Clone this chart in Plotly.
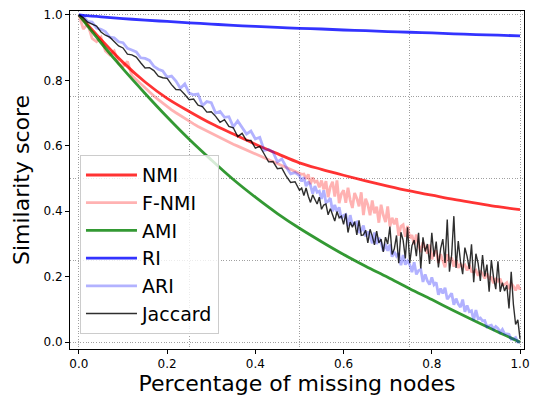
import plotly.graph_objects as go

# x positions (fraction of missing nodes) for the smooth measures
x_smooth = [0.00, 0.05, 0.10, 0.15, 0.20, 0.25, 0.30, 0.35, 0.40, 0.45, 0.50,
            0.55, 0.60, 0.65, 0.70, 0.75, 0.80, 0.85, 0.90, 0.95, 1.00]

nmi = [1.000, 0.925, 0.855, 0.795, 0.745, 0.705, 0.668, 0.636, 0.605, 0.576, 0.548,
       0.528, 0.510, 0.493, 0.477, 0.462, 0.449, 0.436, 0.425, 0.414, 0.405]
ami = [1.000, 0.915, 0.835, 0.760, 0.688, 0.620, 0.557, 0.497, 0.443, 0.393, 0.348,
       0.307, 0.268, 0.232, 0.198, 0.163, 0.130, 0.096, 0.063, 0.031, 0.000]
ri = [1.000, 0.994, 0.989, 0.984, 0.980, 0.976, 0.972, 0.968, 0.965, 0.962, 0.959,
      0.957, 0.954, 0.952, 0.949, 0.947, 0.945, 0.942, 0.940, 0.938, 0.936]

# x positions for the noisy measures
x_noisy = [0.00, 0.01, 0.02, 0.03, 0.04, 0.05, 0.06, 0.07, 0.08, 0.09,
           0.10, 0.11, 0.12, 0.13, 0.14, 0.15, 0.16, 0.17, 0.18, 0.19,
           0.20, 0.21, 0.22, 0.23, 0.24, 0.25, 0.26, 0.27, 0.28, 0.29,
           0.30, 0.31, 0.32, 0.33, 0.34, 0.35, 0.36, 0.37, 0.38, 0.39,
           0.40, 0.41, 0.42, 0.43, 0.44, 0.45, 0.46, 0.47, 0.48, 0.49, 0.50,
           0.505, 0.510, 0.515, 0.520, 0.525, 0.530, 0.535, 0.540, 0.545, 0.550,
           0.555, 0.560, 0.565, 0.570, 0.575, 0.580, 0.585, 0.590, 0.595, 0.600,
           0.605, 0.610, 0.615, 0.620, 0.625, 0.630, 0.635, 0.640, 0.645, 0.650,
           0.655, 0.660, 0.665, 0.670, 0.675, 0.680, 0.685, 0.690, 0.695, 0.700,
           0.705, 0.710, 0.715, 0.720, 0.725, 0.730, 0.735, 0.740, 0.745, 0.750,
           0.755, 0.760, 0.765, 0.770, 0.775, 0.780, 0.785, 0.790, 0.795, 0.800,
           0.805, 0.810, 0.815, 0.820, 0.825, 0.830, 0.835, 0.840, 0.845, 0.850,
           0.855, 0.860, 0.865, 0.870, 0.875, 0.880, 0.885, 0.890, 0.895, 0.900,
           0.905, 0.910, 0.915, 0.920, 0.925, 0.930, 0.935, 0.940, 0.945, 0.950,
           0.955, 0.960, 0.965, 0.970, 0.975, 0.980, 0.985, 0.990, 0.995, 1.000]

fnmi = [1.000, 0.957, 0.972, 0.928, 0.918, 0.932, 0.890, 0.878, 0.890, 0.852,
        0.842, 0.858, 0.815, 0.802, 0.788, 0.775, 0.763, 0.752, 0.741, 0.730,
        0.720, 0.710, 0.701, 0.692, 0.683, 0.675, 0.667, 0.659, 0.652, 0.645,
        0.638, 0.631, 0.624, 0.618, 0.611, 0.605, 0.599, 0.593, 0.587, 0.581,
        0.575, 0.569, 0.563, 0.557, 0.551, 0.545, 0.539, 0.533, 0.527, 0.521, 0.515,
        0.513, 0.514, 0.499, 0.513, 0.483, 0.503, 0.489, 0.492, 0.473, 0.494,
        0.467, 0.492, 0.443, 0.475, 0.490, 0.445, 0.494, 0.425, 0.453, 0.464,
        0.426, 0.472, 0.434, 0.410, 0.456, 0.439, 0.415, 0.458, 0.388, 0.438,
        0.420, 0.388, 0.433, 0.394, 0.414, 0.365, 0.420, 0.388, 0.367, 0.415,
        0.354, 0.380, 0.360, 0.379, 0.325, 0.354, 0.359, 0.322, 0.355, 0.318,
        0.327, 0.299, 0.329, 0.298, 0.275, 0.305, 0.289, 0.271, 0.298, 0.253,
        0.272, 0.280, 0.242, 0.269, 0.249, 0.229, 0.269, 0.248, 0.258, 0.231,
        0.251, 0.227, 0.238, 0.231, 0.236, 0.219, 0.235, 0.216, 0.215, 0.220,
        0.203, 0.218, 0.208, 0.195, 0.210, 0.194, 0.197, 0.180, 0.196, 0.186,
        0.194, 0.175, 0.176, 0.182, 0.162, 0.179, 0.171, 0.158, 0.175, 0.160]

ari = [1.000, 0.995, 0.980, 0.978, 0.960, 0.956, 0.949, 0.932, 0.930, 0.918,
       0.915, 0.898, 0.893, 0.887, 0.869, 0.867, 0.861, 0.843, 0.834, 0.829,
       0.810, 0.813, 0.798, 0.776, 0.789, 0.761, 0.756, 0.758, 0.723, 0.735,
       0.732, 0.700, 0.705, 0.687, 0.689, 0.658, 0.676, 0.654, 0.636, 0.645,
       0.621, 0.626, 0.586, 0.589, 0.581, 0.551, 0.560, 0.535, 0.514, 0.518, 0.509,
       0.491, 0.504, 0.477, 0.490, 0.479, 0.454, 0.477, 0.458, 0.461, 0.438,
       0.464, 0.427, 0.431, 0.440, 0.400, 0.419, 0.399, 0.412, 0.378, 0.387,
       0.390, 0.355, 0.388, 0.357, 0.364, 0.367, 0.334, 0.341, 0.356, 0.323,
       0.338, 0.325, 0.302, 0.335, 0.300, 0.319, 0.304, 0.279, 0.300, 0.279,
       0.298, 0.261, 0.276, 0.263, 0.272, 0.235, 0.266, 0.237, 0.248, 0.237,
       0.214, 0.244, 0.207, 0.219, 0.222, 0.184, 0.207, 0.187, 0.176, 0.198,
       0.175, 0.182, 0.145, 0.164, 0.149, 0.166, 0.131, 0.142, 0.149, 0.114,
       0.133, 0.116, 0.107, 0.130, 0.093, 0.112, 0.093, 0.096, 0.067, 0.098,
       0.071, 0.074, 0.065, 0.066, 0.047, 0.050, 0.052, 0.040, 0.048, 0.042,
       0.030, 0.039, 0.025, 0.025, 0.024, 0.009, 0.010, 0.014, 0.000, 0.000]

jaccard = [1.000, 0.992, 0.978, 0.971, 0.966, 0.948, 0.938, 0.932, 0.919, 0.905,
           0.899, 0.880, 0.878, 0.871, 0.854, 0.838, 0.839, 0.830, 0.813, 0.808,
           0.806, 0.787, 0.772, 0.771, 0.757, 0.741, 0.743, 0.724, 0.720, 0.703,
           0.704, 0.690, 0.672, 0.680, 0.659, 0.655, 0.628, 0.638, 0.616, 0.616,
           0.593, 0.598, 0.575, 0.551, 0.552, 0.530, 0.532, 0.507, 0.488, 0.490, 0.464,
           0.471, 0.448, 0.471, 0.446, 0.427, 0.450, 0.437, 0.422, 0.443, 0.406,
           0.419, 0.422, 0.389, 0.408, 0.389, 0.370, 0.399, 0.380, 0.385, 0.360,
           0.393, 0.335, 0.367, 0.351, 0.368, 0.328, 0.372, 0.326, 0.328, 0.342,
           0.303, 0.345, 0.324, 0.297, 0.339, 0.303, 0.315, 0.276, 0.321, 0.300,
           0.353, 0.268, 0.285, 0.326, 0.241, 0.336, 0.311, 0.256, 0.351, 0.242,
           0.295, 0.312, 0.263, 0.334, 0.225, 0.320, 0.277, 0.300, 0.239, 0.334,
           0.261, 0.307, 0.228, 0.286, 0.315, 0.242, 0.375, 0.215, 0.267, 0.385,
           0.227, 0.309, 0.246, 0.208, 0.289, 0.262, 0.224, 0.299, 0.183, 0.270,
           0.241, 0.187, 0.266, 0.201, 0.237, 0.154, 0.251, 0.197, 0.162, 0.247,
           0.154, 0.182, 0.156, 0.174, 0.103, 0.215, 0.115, 0.054, 0.068, 0.010]

FONT = "DejaVu Sans"
X_RANGE = [-0.0202, 1.009]
Y_RANGE = [-0.021, 1.012]

series = [
    ("NMI", x_smooth, nmi, "rgba(255,0,0,0.8)", 2.8),
    ("F-NMI", x_noisy, fnmi, "rgba(255,0,0,0.3)", 2.8),
    ("AMI", x_smooth, ami, "rgba(0,128,0,0.8)", 2.8),
    ("RI", x_smooth, ri, "rgba(0,0,255,0.8)", 2.8),
    ("ARI", x_noisy, ari, "rgba(0,0,255,0.3)", 2.8),
    ("Jaccard", x_noisy, jaccard, "rgba(0,0,0,0.82)", 1.4),
]

fig = go.Figure()
for name, xs, ys, color, width in series:
    fig.add_trace(go.Scatter(
        x=xs, y=ys, mode="lines", name=name, legendgroup=name,
        line=dict(color=color, width=width,
                  shape="spline" if xs is x_smooth else "linear"),
    ))

# empty trace so the tick-label axes (x2/y2) are drawn
fig.add_trace(go.Scatter(x=[], y=[], xaxis="x2", yaxis="y2",
                         showlegend=False, hoverinfo="skip"))

grid_axis = dict(
    showline=True, linecolor="black", linewidth=1.2, mirror=True,
    ticks="", showticklabels=False, zeroline=False,
    showgrid=True, gridcolor="#a0a0a0", griddash="1px,1.6px", gridwidth=0.9,
    tick0=0, dtick=0.25,
)
tick_axis = dict(
    showline=False, showgrid=False, zeroline=False,
    ticks="outside", ticklen=4, tickwidth=1, tickcolor="black",
    tickfont=dict(family=FONT, size=12, color="black"),
    tick0=0, dtick=0.2, tickformat=".1f",
)

fig.update_layout(
    width=538, height=400,
    margin=dict(l=70, r=10, t=8, b=50),
    paper_bgcolor="white", plot_bgcolor="white",
    font=dict(family=FONT, color="black"),
    xaxis=dict(range=X_RANGE, **grid_axis),
    yaxis=dict(range=Y_RANGE, **grid_axis),
    xaxis2=dict(range=X_RANGE, overlaying="x", anchor="y", side="bottom",
                title=dict(text="Percentage of missing nodes",
                           font=dict(family=FONT, size=22, color="black"), standoff=5),
                **tick_axis),
    yaxis2=dict(range=Y_RANGE, overlaying="y", anchor="x", side="left",
                title=dict(text="Similarity score",
                           font=dict(family=FONT, size=22, color="black"), standoff=7),
                **tick_axis),
    legend=dict(x=0.022, y=0.044, xanchor="left", yanchor="bottom",
                bgcolor="rgba(255,255,255,0.8)", bordercolor="#cccccc", borderwidth=1,
                font=dict(family=FONT, size=19, color="black"),
                tracegroupgap=0, itemwidth=51),
    showlegend=True,
)

fig.write_html("out.html")
